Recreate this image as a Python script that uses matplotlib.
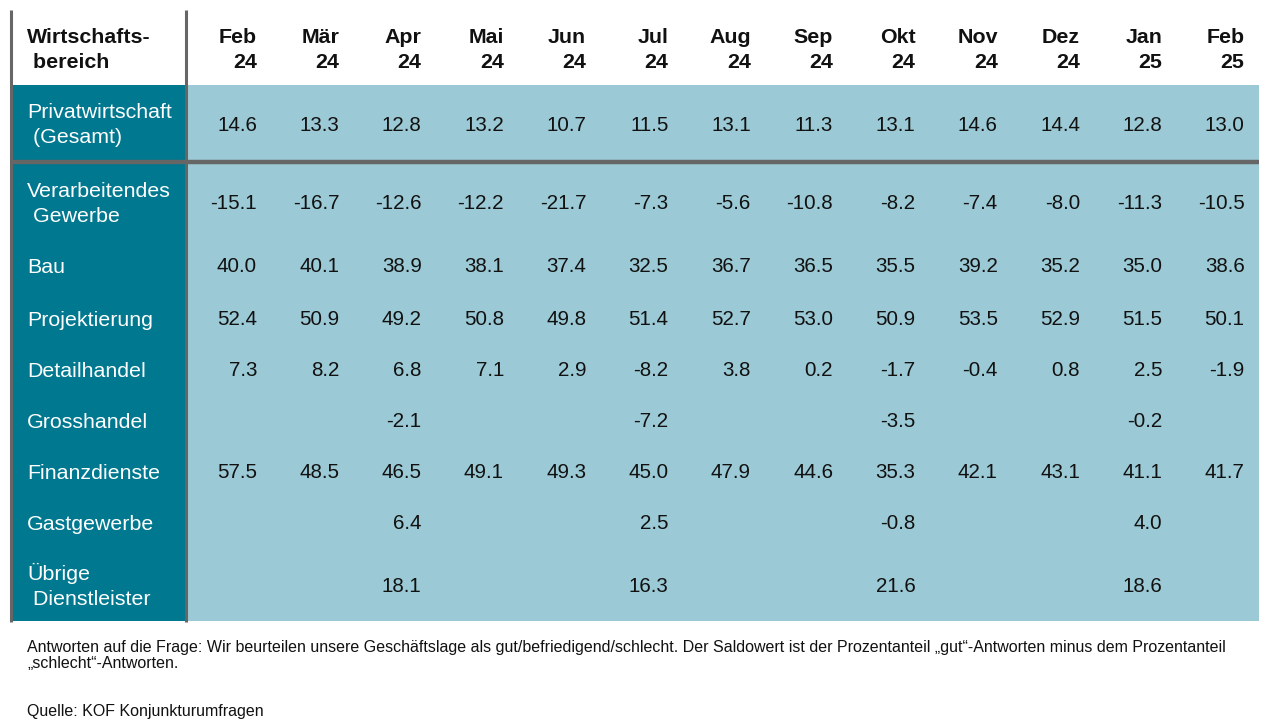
import numpy as np
import matplotlib
matplotlib.use('Agg')
import matplotlib.pyplot as plt
from matplotlib.patches import Rectangle

plt.rcParams['font.family'] = ['Liberation Sans', 'DejaVu Sans']

months = ['Feb', 'Mär', 'Apr', 'Mai', 'Jun', 'Jul', 'Aug', 'Sep', 'Okt', 'Nov', 'Dez', 'Jan', 'Feb']
years = ['24', '24', '24', '24', '24', '24', '24', '24', '24', '24', '24', '25', '25']

total_label = ['Privatwirtschaft', ' (Gesamt)']
total_values = [14.6, 13.3, 12.8, 13.2, 10.7, 11.5, 13.1, 11.3, 13.1, 14.6, 14.4, 12.8, 13.0]

sector_labels = [
    ['Verarbeitendes', ' Gewerbe'],
    ['Bau'],
    ['Projektierung'],
    ['Detailhandel'],
    ['Grosshandel'],
    ['Finanzdienste'],
    ['Gastgewerbe'],
    ['Übrige', ' Dienstleister'],
]
verarbeitendes = [-15.1, -16.7, -12.6, -12.2, -21.7, -7.3, -5.6, -10.8, -8.2, -7.4, -8.0, -11.3, -10.5]
bau = [40.0, 40.1, 38.9, 38.1, 37.4, 32.5, 36.7, 36.5, 35.5, 39.2, 35.2, 35.0, 38.6]
projektierung = [52.4, 50.9, 49.2, 50.8, 49.8, 51.4, 52.7, 53.0, 50.9, 53.5, 52.9, 51.5, 50.1]
detailhandel = [7.3, 8.2, 6.8, 7.1, 2.9, -8.2, 3.8, 0.2, -1.7, -0.4, 0.8, 2.5, -1.9]
grosshandel = [None, None, -2.1, None, None, -7.2, None, None, -3.5, None, None, -0.2, None]
finanz = [57.5, 48.5, 46.5, 49.1, 49.3, 45.0, 47.9, 44.6, 35.3, 42.1, 43.1, 41.1, 41.7]
gastgewerbe = [None, None, 6.4, None, None, 2.5, None, None, -0.8, None, None, 4.0, None]
uebrige = [None, None, 18.1, None, None, 16.3, None, None, 21.6, None, None, 18.6, None]
sector_values = [verarbeitendes, bau, projektierung, detailhandel, grosshandel,
                 finanz, gastgewerbe, uebrige]

note_lines = [
    'Antworten auf die Frage: Wir beurteilen unsere Geschäftslage als gut/befriedigend/schlecht. '
    'Der Saldowert ist der Prozentanteil \u201egut\u201c-Antworten minus dem Prozentanteil',
    '\u201eschlecht\u201c-Antworten.',
]
source = 'Quelle: KOF Konjunkturumfragen'

teal = '#00788f'
light = '#9bc9d5'
gray = '#666666'
ink = '#111111'

W, H = 1282, 726
fig = plt.figure(figsize=(W / 100, H / 100), dpi=100)
ax = fig.add_axes([0, 0, 1, 1])
ax.set_xlim(0, W)
ax.set_ylim(H, 0)
ax.axis('off')

left, divider, right = 11, 187, 1259
top, head_bot, sep, bottom = 10, 85, 162, 621
col_right = 257 + 82.3 * np.arange(len(months))
fs_val = 14.8
fs_lab = 15.4
val_shift = 7.4   # centre -> baseline, px
lab_shift = 7.8


def fmt(v):
    return '' if v is None else f'{v:.1f}'


def draw_label(lines, yc, gap=25):
    n = len(lines)
    for k, line in enumerate(lines):
        y = yc + (k - (n - 1) / 2) * gap + lab_shift
        ax.text(27, y, line, color='white', fontsize=fs_lab, ha='left', va='baseline')


# backgrounds
ax.add_patch(Rectangle((left, head_bot), divider - left, bottom - head_bot, color=teal, lw=0))
ax.add_patch(Rectangle((divider, head_bot), right - divider, bottom - head_bot, color=light, lw=0))

# lines
ax.plot([left, left], [top, bottom + 1], color=gray, lw=2.2, solid_capstyle='butt')
ax.plot([divider - 1, divider - 1], [top, bottom + 1], color=gray, lw=2.2, solid_capstyle='butt')
ax.plot([left, right], [sep, sep], color=gray, lw=3.2, solid_capstyle='butt')

# header
ax.text(27, 43, 'Wirtschafts-', color=ink, fontsize=fs_lab, fontweight='bold', ha='left', va='baseline')
ax.text(27, 68, ' bereich', color=ink, fontsize=fs_lab, fontweight='bold', ha='left', va='baseline')
for x, m, yr in zip(col_right, months, years):
    ax.text(x, 43, m, color=ink, fontsize=fs_lab, fontweight='bold', ha='right', va='baseline')
    ax.text(x, 68, yr, color=ink, fontsize=fs_lab, fontweight='bold', ha='right', va='baseline')

# total row
draw_label(total_label, 123)
for x, v in zip(col_right, total_values):
    ax.text(x, 124 + val_shift, fmt(v), color=ink, fontsize=fs_val, ha='right', va='baseline')

# sector rows
row_y = [202, 265, 318, 369, 420, 471, 522, 585]
for yc, lab, vals in zip(row_y, sector_labels, sector_values):
    draw_label(lab, yc)
    for x, v in zip(col_right, vals):
        ax.text(x, yc + val_shift, fmt(v), color=ink, fontsize=fs_val, ha='right', va='baseline')

ax.text(27, 652, note_lines[0], color=ink, fontsize=11.5, ha='left', va='baseline')
ax.text(27, 668, note_lines[1], color=ink, fontsize=11.5, ha='left', va='baseline')
ax.text(27, 716, source, color=ink, fontsize=11.5, ha='left', va='baseline')

fig.savefig('out.png', dpi=100)
